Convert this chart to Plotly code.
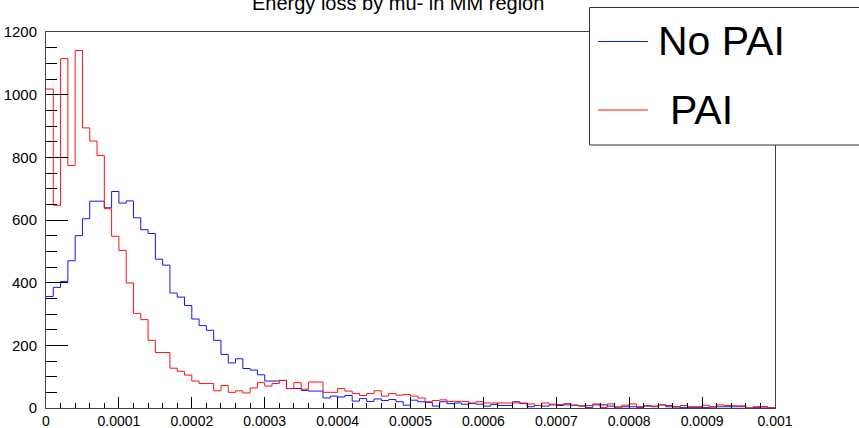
import numpy as np
import plotly.graph_objects as go

# ---- data (histogram bin contents, 100 bins from 0 to 0.001) ----
X_MIN = 0.0
X_MAX = 0.001
N_BINS = 100

no_pai = [
    356, 385, 404, 470, 550, 604, 660, 660, 639, 691,
    654, 661, 607, 569, 557, 475, 456, 367, 354, 327,
    284, 263, 248, 216, 171, 144, 157, 126, 121, 106,
    86, 86, 88, 62, 62, 56, 54, 54, 32, 38,
    35, 40, 22, 30, 21, 29, 24, 27, 20, 9,
    25, 20, 18, 6, 20, 14, 16, 12, 14, 12,
    6, 11, 8, 8, 20, 14, 4, 8, 6, 10,
    8, 10, 9, 7, 2, 10, 10, 6, 3, 4,
    4, 2, 6, 6, 10, 4, 4, 2, 2, 2,
    2, 3, 4, 4, 4, 4, 0, 2, 4, 0,
]

pai = [
    1018, 647, 1115, 774, 1141, 894, 852, 806, 636, 548,
    503, 399, 302, 282, 216, 177, 177, 127, 117, 105,
    86, 78, 78, 55, 72, 50, 55, 48, 64, 81,
    70, 78, 88, 62, 81, 60, 83, 83, 50, 50,
    62, 54, 46, 40, 46, 55, 38, 46, 41, 43,
    38, 32, 20, 24, 26, 21, 21, 21, 16, 20,
    16, 16, 16, 16, 16, 16, 13, 8, 16, 12,
    11, 14, 9, 6, 8, 13, 2, 13, 3, 9,
    13, 4, 8, 4, 10, 8, 3, 8, 4, 4,
    9, 4, 10, 8, 7, 7, 0, 4, 3, 1,
]

x_tick_vals = [0, 0.0001, 0.0002, 0.0003, 0.0004, 0.0005, 0.0006, 0.0007, 0.0008, 0.0009, 0.001]
x_tick_text = ["0", "0.0001", "0.0002", "0.0003", "0.0004", "0.0005", "0.0006", "0.0007", "0.0008", "0.0009", "0.001"]
y_tick_vals = [0, 200, 400, 600, 800, 1000, 1200]

title_text = "Energy loss by mu- in MM region"
legend_labels = ["No PAI", "PAI"]
colors = ["#1414f0", "#ff1010"]

# ---- layout geometry (pixels) ----
W, H = 859, 428
L, R, T, B = 46, 84, 32, 20
plot_w = W - L - R
plot_h = H - T - B


def px_x(p):
    return (p - L) / plot_w


def px_y(p):
    return (H - B - p) / plot_h


edges = np.linspace(X_MIN, X_MAX, N_BINS + 1)

fig = go.Figure()
for vals, col, name in [(no_pai, colors[0], legend_labels[0]), (pai, colors[1], legend_labels[1])]:
    fig.add_trace(go.Scatter(
        x=edges, y=list(vals) + [vals[-1]], mode="lines", line_shape="hv",
        line=dict(color=col, width=1), name=name, showlegend=False,
        hoverinfo="skip",
    ))

fig.update_layout(
    width=W, height=H,
    margin=dict(l=L, r=R, t=T, b=B, pad=0),
    paper_bgcolor="white", plot_bgcolor="white",
    font=dict(family="Liberation Sans, Arial, sans-serif", color="black"),
    showlegend=False,
)

fig.update_xaxes(
    range=[X_MIN, X_MAX], tickvals=x_tick_vals, ticktext=x_tick_text,
    ticks="inside", ticklen=11, tickcolor="black", tickwidth=1,
    minor=dict(dtick=0.00002, ticks="inside", ticklen=5, tickcolor="black", tickwidth=1, showgrid=False),
    showline=True, linecolor="#444", linewidth=1, mirror=True,
    showgrid=False, zeroline=False, tickfont=dict(size=14),
    automargin=False,
)
fig.update_yaxes(
    range=[0, 1200], tickvals=y_tick_vals,
    ticks="inside", ticklen=22, tickcolor="black", tickwidth=1,
    minor=dict(dtick=50, ticks="inside", ticklen=11, tickcolor="black", tickwidth=1, showgrid=False),
    showline=True, linecolor="#444", linewidth=1, mirror=True,
    showgrid=False, zeroline=False, tickfont=dict(size=15),
    ticklabelstandoff=5, automargin=False,
)

# title (partly outside the top of the page, as in the reference)
fig.add_annotation(
    x=px_x(398), y=px_y(3), xref="paper", yref="paper",
    text=title_text, showarrow=False, xanchor="center", yanchor="middle",
    font=dict(size=20, color="black"),
)

# legend box
fig.add_shape(type="rect", xref="paper", yref="paper",
              x0=px_x(589.5), x1=px_x(875), y0=px_y(145), y1=px_y(7.5),
              line=dict(color="#333", width=1), fillcolor="white", layer="above")
leg_rows = [41.5, 110]
text_x = [656, 667.5]
for i, lab in enumerate(legend_labels):
    fig.add_shape(type="line", xref="paper", yref="paper",
                  x0=px_x(598), x1=px_x(648), y0=px_y(leg_rows[i]), y1=px_y(leg_rows[i]),
                  line=dict(color=colors[i], width=1), layer="above")
    fig.add_annotation(
        x=px_x(text_x[i]), y=px_y(leg_rows[i]), xref="paper", yref="paper",
        text=lab, showarrow=False, xanchor="left", yanchor="middle",
        font=dict(size=41, color="black"),
    )

fig.write_html("out.html")
